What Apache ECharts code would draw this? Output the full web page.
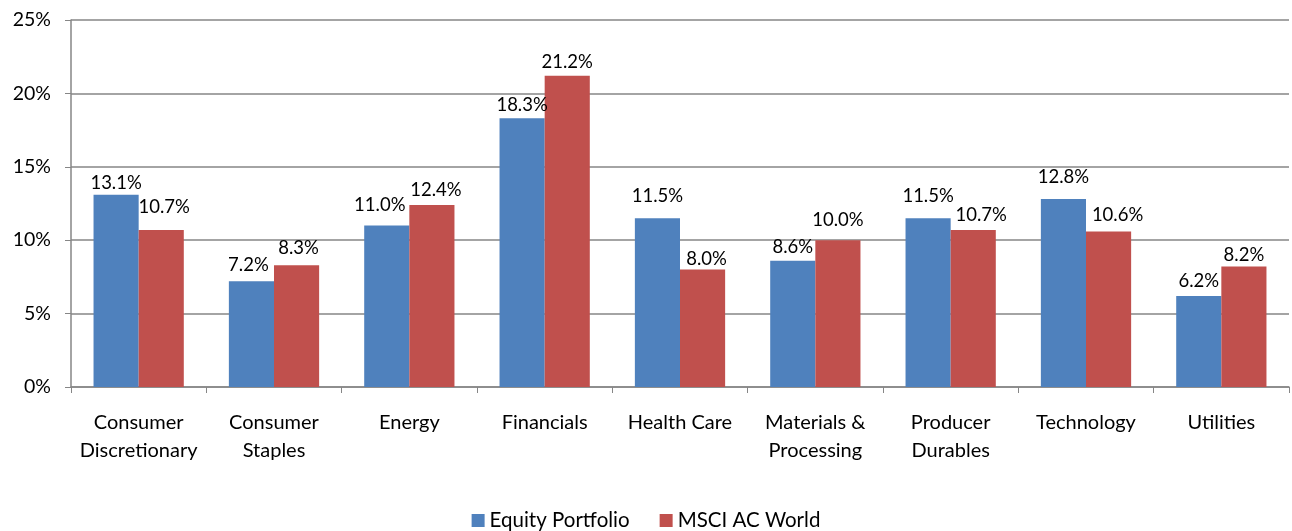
<!DOCTYPE html>
<html lang="en">

<head>
    <meta charset="UTF-8">
    <title>Sector weights</title>
    <script src="https://cdn.jsdelivr.net/npm/echarts@6/dist/echarts.min.js"></script>
    <style>
        * {
            margin: 0;
            padding: 0;
        }

        #main {
            width: 1292px;
            height: 531px;
            background-color: #fff;
        }
    </style>
</head>

<body>
    <div id="main"></div>
    <script>
        var categories = ['Consumer\nDiscretionary', 'Consumer\nStaples', 'Energy', 'Financials', 'Health Care',
            'Materials &\nProcessing', 'Producer\nDurables', 'Technology', 'Utilities'];
        var equityPortfolio = [13.1, 7.2, 11.0, 18.3, 11.5, 8.6, 11.5, 12.8, 6.2];
        var msciWorld = [10.7, 8.3, 12.4, 21.2, 8.0, 10.0, 10.7, 10.6, 8.2];
        var yTicks = [0, 5, 10, 15, 20, 25];

        // label nudges (excel moved some of them by hand)
        var equityLabelShift = [[0, 3], [-3, -2], [-7, -6], [0, 1], [0, -8], [0, 1], [0, -8], [0, -8], [0, 0]];
        var msciLabelShift = [[3, -8], [2, -3], [4, 0], [0, 1], [4, 4], [0, -6], [8, 0], [9, -2], [0, 3]];

        var font = 'Lato, "Open Sans", sans-serif';

        function withLabels(values, shifts) {
            return values.map(function (v, i) {
                return { value: v, label: { offset: shifts[i] } };
            });
        }

        var chartDom = document.getElementById('main');
        var myChart = echarts.init(chartDom);
        var option;

        option = {
            animation: false,
            color: ['#4F81BD', '#C0504D'],
            textStyle: { fontFamily: font },
            grid: {
                left: 71,
                right: 3,
                top: 20,
                bottom: 144
            },
            legend: {
                top: 505,
                left: 'center',
                itemWidth: 13,
                itemHeight: 13,
                itemGap: 30,
                icon: 'rect',
                textStyle: { fontSize: 20.5, color: '#000', fontFamily: font },
                data: ['Equity Portfolio', 'MSCI AC World']
            },
            xAxis: {
                type: 'category',
                data: categories,
                axisLine: { lineStyle: { color: '#868686', width: 1.5 } },
                axisTick: { show: true, length: 6, lineStyle: { color: '#868686' } },
                axisLabel: {
                    color: '#000',
                    fontSize: 20,
                    lineHeight: 28,
                    margin: 22,
                    interval: 0,
                    fontFamily: font
                }
            },
            yAxis: {
                type: 'value',
                min: yTicks[0],
                max: yTicks[yTicks.length - 1],
                interval: 5,
                axisLine: { show: true, lineStyle: { color: '#868686', width: 1.5 } },
                axisTick: { show: true, length: 6, lineStyle: { color: '#868686' } },
                splitLine: { lineStyle: { color: '#868686', width: 1.5 } },
                axisLabel: {
                    color: '#000',
                    fontSize: 19.5,
                    margin: 20,
                    fontFamily: font,
                    formatter: '{value}%'
                }
            },
            series: [
                {
                    name: 'Equity Portfolio',
                    type: 'bar',
                    barGap: '0%',
                    barCategoryGap: '33.3%',
                    data: withLabels(equityPortfolio, equityLabelShift),
                    label: {
                        show: true,
                        position: 'top',
                        color: '#000',
                        fontSize: 18.5,
                        fontFamily: font,
                        formatter: function (p) { return p.value.toFixed(1) + '%'; }
                    }
                },
                {
                    name: 'MSCI AC World',
                    type: 'bar',
                    barGap: '0%',
                    barCategoryGap: '33.3%',
                    data: withLabels(msciWorld, msciLabelShift),
                    label: {
                        show: true,
                        position: 'top',
                        color: '#000',
                        fontSize: 18.5,
                        fontFamily: font,
                        formatter: function (p) { return p.value.toFixed(1) + '%'; }
                    }
                }
            ]
        };

        option && myChart.setOption(option);
    </script>
</body>

</html>
